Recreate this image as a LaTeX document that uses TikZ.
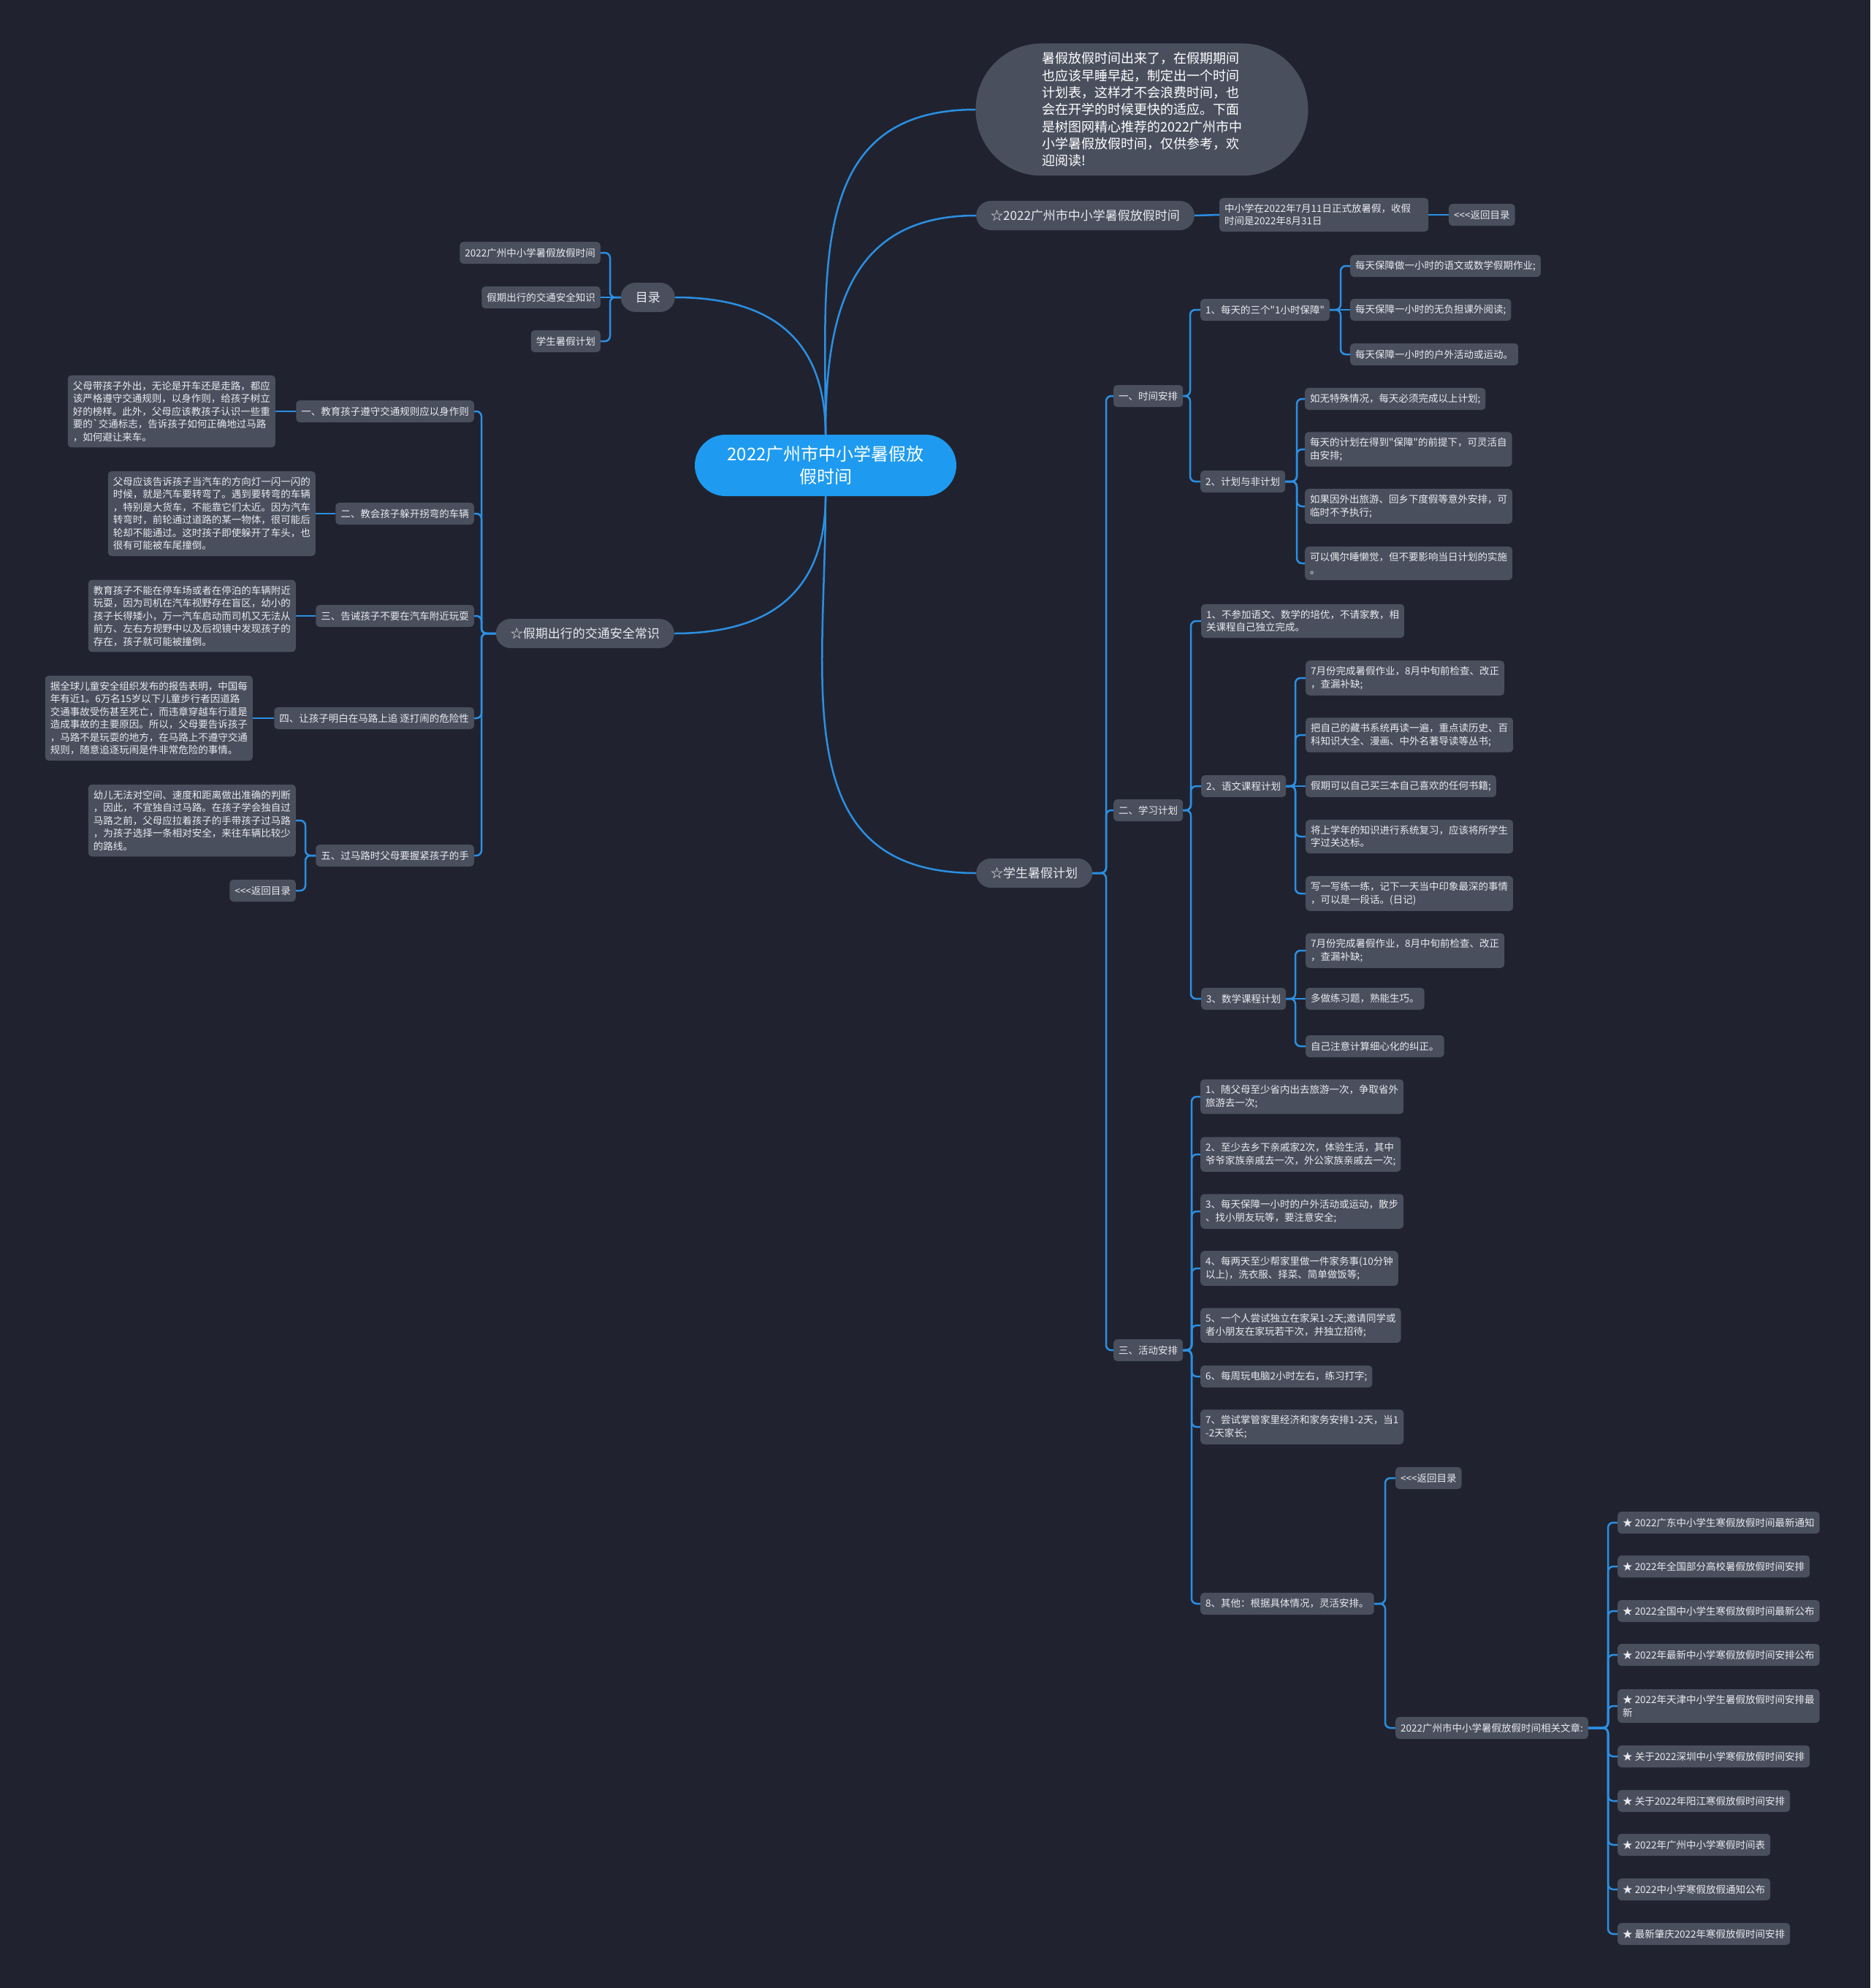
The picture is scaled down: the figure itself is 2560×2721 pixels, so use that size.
\documentclass[tikz,border=0pt]{standalone}
\usepackage{fontspec}
\setmainfont{Noto Sans CJK SC}[Ligatures=TeXOff]
\definecolor{bgdark}{HTML}{20232F}
\definecolor{boxgray}{HTML}{4A4F5E}
\definecolor{boxtext}{HTML}{E8EAEE}
\definecolor{linkblue}{HTML}{2B8FE3}
\definecolor{rootblue}{HTML}{1E9BF0}
\newcommand\leaffont{\fontsize{13.5}{17.5}\selectfont}
\newcommand\branchfont{\fontsize{17}{20}\selectfont}
\newcommand\introfont{\fontsize{18}{23.3}\selectfont}
\newcommand\rootfont{\fontsize{24}{31}\selectfont}

\begin{document}
\begin{tikzpicture}[x=1pt, y=-1pt,
  root/.style={fill=rootblue, rounded corners=42pt, minimum width=358pt, minimum height=84pt, align=center, text=white, font=\rootfont},
  intro/.style={fill=boxgray, rounded corners=90pt, minimum width=455pt, minimum height=181pt, align=left, text=white, font=\introfont},
  branch/.style={fill=boxgray, rounded corners=20pt, minimum height=40pt, inner xsep=20pt, inner ysep=0pt, text=boxtext, font=\branchfont},
  leaf/.style={fill=boxgray, rounded corners=5pt, minimum height=30pt, inner xsep=7pt, inner ysep=8pt, align=left, text=boxtext, font=\leaffont},
  link/.style={draw=linkblue, line width=2.5pt, rounded corners=7pt},
  curve/.style={draw=linkblue, line width=2.5pt}]

\useasboundingbox (0,0) rectangle (2560,2721);
\fill[bgdark] (0,0) rectangle (2560,2721);

% Centre and intro
\node[root] (root) at (1130,637) {2022广州市中小学暑假放\\假时间};
\node[intro] (intro) at (1563,150) {暑假放假时间出来了，在假期期间\\也应该早睡早起，制定出一个时间\\计划表，这样才不会浪费时间，也\\会在开学的时候更快的适应。下面\\是树图网精心推荐的2022广州市中\\小学暑假放假时间，仅供参考，欢\\迎阅读!};

% Holiday dates
\node[branch, anchor=west] (holiday) at (1336,295) {☆2022广州市中小学暑假放假时间};
\node[leaf, anchor=west, text width=272pt] (opendate) at (1669,294) {中小学在2022年7月11日正式放暑假，收假\\时间是2022年8月31日};
\node[leaf, anchor=west] (back1) at (1983,294) {<<<返回目录};

% Contents
\node[branch, anchor=east] (mulu) at (924,407) {目录};
\node[leaf, anchor=east] (m1) at (822,346) {2022广州中小学暑假放假时间};
\node[leaf, anchor=east] (m2) at (822,407) {假期出行的交通安全知识};
\node[leaf, anchor=east] (m3) at (822,467) {学生暑假计划};

% Traffic safety
\node[branch, anchor=east] (traffic) at (923,867) {☆假期出行的交通安全常识};
\node[leaf, anchor=east] (t1) at (649,563) {一、教育孩子遵守交通规则应以身作则};
\node[leaf, anchor=east] (t2) at (649,703) {二、教会孩子躲开拐弯的车辆};
\node[leaf, anchor=east] (t3) at (649,843) {三、告诫孩子不要在汽车附近玩耍};
\node[leaf, anchor=east] (t4) at (649,983) {四、让孩子明白在马路上追 逐打闹的危险性};
\node[leaf, anchor=east] (t5) at (649,1171) {五、过马路时父母要握紧孩子的手};
\node[leaf, anchor=east] (t1txt) at (377,563) {父母带孩子外出，无论是开车还是走路，都应\\该严格遵守交通规则，以身作则，给孩子树立\\好的榜样。此外，父母应该教孩子认识一些重\\要的`交通标志，告诉孩子如何正确地过马路\\，如何避让来车。};
\node[leaf, anchor=east] (t2txt) at (432,703) {父母应该告诉孩子当汽车的方向灯一闪一闪的\\时候，就是汽车要转弯了。遇到要转弯的车辆\\，特别是大货车，不能靠它们太近。因为汽车\\转弯时，前轮通过道路的某一物体，很可能后\\轮却不能通过。这时孩子即使躲开了车头，也\\很有可能被车尾撞倒。};
\node[leaf, anchor=east] (t3txt) at (405,843) {教育孩子不能在停车场或者在停泊的车辆附近\\玩耍，因为司机在汽车视野存在盲区，幼小的\\孩子长得矮小，万一汽车启动而司机又无法从\\前方、左右方视野中以及后视镜中发现孩子的\\存在，孩子就可能被撞倒。};
\node[leaf, anchor=east] (t4txt) at (346,983) {据全球儿童安全组织发布的报告表明，中国每\\年有近1。6万名15岁以下儿童步行者因道路\\交通事故受伤甚至死亡，而违章穿越车行道是\\造成事故的主要原因。所以，父母要告诉孩子\\，马路不是玩耍的地方，在马路上不遵守交通\\规则，随意追逐玩闹是件非常危险的事情。};
\node[leaf, anchor=east] (t5txt) at (405,1123) {幼儿无法对空间、速度和距离做出准确的判断\\，因此，不宜独自过马路。在孩子学会独自过\\马路之前，父母应拉着孩子的手带孩子过马路\\，为孩子选择一条相对安全，来往车辆比较少\\的路线。};
\node[leaf, anchor=east] (back2) at (405,1219) {<<<返回目录};

% Student plan
\node[branch, anchor=west] (plan) at (1336,1195) {☆学生暑假计划};
\node[leaf, anchor=west] (timeplan) at (1524,542) {一、时间安排};
\node[leaf, anchor=west] (study) at (1524,1109) {二、学习计划};
\node[leaf, anchor=west] (activity) at (1524,1848) {三、活动安排};

\node[leaf, anchor=west] (daily) at (1643,424) {1、每天的三个"1小时保障"};
\node[leaf, anchor=west] (flexible) at (1643,659) {2、计划与非计划};
\node[leaf, anchor=west] (daily1) at (1848,364) {每天保障做一小时的语文或数学假期作业;};
\node[leaf, anchor=west] (daily2) at (1848,424) {每天保障一小时的无负担课外阅读;};
\node[leaf, anchor=west] (daily3) at (1848,485) {每天保障一小时的户外活动或运动。};
\node[leaf, anchor=west] (flex1) at (1786,546) {如无特殊情况，每天必须完成以上计划;};
\node[leaf, anchor=west] (flex2) at (1786,615) {每天的计划在得到"保障"的前提下，可灵活自\\由安排;};
\node[leaf, anchor=west] (flex3) at (1786,693) {如果因外出旅游、回乡下度假等意外安排，可\\临时不予执行;};
\node[leaf, anchor=west] (flex4) at (1786,771) {可以偶尔睡懒觉，但不要影响当日计划的实施\\。};

\node[leaf, anchor=west] (study1) at (1644,850) {1、不参加语文、数学的培优，不请家教，相\\关课程自己独立完成。};
\node[leaf, anchor=west] (chinese) at (1644,1076) {2、语文课程计划};
\node[leaf, anchor=west] (maths) at (1644,1367) {3、数学课程计划};
\node[leaf, anchor=west] (chin1) at (1787,928) {7月份完成暑假作业，8月中旬前检查、改正\\，查漏补缺;};
\node[leaf, anchor=west] (chin2) at (1787,1006) {把自己的藏书系统再读一遍，重点读历史、百\\科知识大全、漫画、中外名著导读等丛书;};
\node[leaf, anchor=west] (chin3) at (1787,1076) {假期可以自己买三本自己喜欢的任何书籍;};
\node[leaf, anchor=west] (chin4) at (1787,1145) {将上学年的知识进行系统复习，应该将所学生\\字过关达标。};
\node[leaf, anchor=west] (chin5) at (1787,1223) {写一写练一练，记下一天当中印象最深的事情\\，可以是一段话。(日记)};
\node[leaf, anchor=west] (math1) at (1787,1301) {7月份完成暑假作业，8月中旬前检查、改正\\，查漏补缺;};
\node[leaf, anchor=west] (math2) at (1787,1367) {多做练习题，熟能生巧。};
\node[leaf, anchor=west] (math3) at (1787,1432) {自己注意计算细心化的纠正。};

\node[leaf, anchor=west] (act1) at (1643,1501) {1、随父母至少省内出去旅游一次，争取省外\\旅游去一次;};
\node[leaf, anchor=west] (act2) at (1643,1580) {2、至少去乡下亲戚家2次，体验生活，其中\\爷爷家族亲戚去一次，外公家族亲戚去一次;};
\node[leaf, anchor=west] (act3) at (1643,1658) {3、每天保障一小时的户外活动或运动，散步\\、找小朋友玩等，要注意安全;};
\node[leaf, anchor=west] (act4) at (1643,1736) {4、每两天至少帮家里做一件家务事(10分钟\\以上)，洗衣服、择菜、简单做饭等;};
\node[leaf, anchor=west] (act5) at (1643,1814) {5、一个人尝试独立在家呆1-2天;邀请同学或\\者小朋友在家玩若干次，并独立招待;};
\node[leaf, anchor=west] (act6) at (1643,1884) {6、每周玩电脑2小时左右，练习打字;};
\node[leaf, anchor=west] (act7) at (1643,1953) {7、尝试掌管家里经济和家务安排1-2天，当1\\-2天家长;};
\node[leaf, anchor=west] (act8) at (1643,2195) {8、其他：根据具体情况，灵活安排。};
\node[leaf, anchor=west] (back3) at (1910,2023) {<<<返回目录};
\node[leaf, anchor=west] (related) at (1910,2365) {2022广州市中小学暑假放假时间相关文章:};

\node[leaf, anchor=west] (art1) at (2214,2084) {★ 2022广东中小学生寒假放假时间最新通知};
\node[leaf, anchor=west] (art2) at (2214,2144) {★ 2022年全国部分高校暑假放假时间安排};
\node[leaf, anchor=west] (art3) at (2214,2205) {★ 2022全国中小学生寒假放假时间最新公布};
\node[leaf, anchor=west] (art4) at (2214,2265) {★ 2022年最新中小学寒假放假时间安排公布};
\node[leaf, anchor=west] (art5) at (2214,2335) {★ 2022年天津中小学生暑假放假时间安排最\\新};
\node[leaf, anchor=west] (art6) at (2214,2404) {★ 关于2022深圳中小学寒假放假时间安排};
\node[leaf, anchor=west] (art7) at (2214,2465) {★ 关于2022年阳江寒假放假时间安排};
\node[leaf, anchor=west] (art8) at (2214,2525) {★ 2022年广州中小学寒假时间表};
\node[leaf, anchor=west] (art9) at (2214,2586) {★ 2022中小学寒假放假通知公布};
\node[leaf, anchor=west] (art10) at (2214,2647) {★ 最新肇庆2022年寒假放假时间安排};

% Curves from the centre
\draw[curve] (root.north) to[out=90, in=180, looseness=1.2] (intro.west);
\draw[curve] (root.north) to[out=90, in=180, looseness=1.2] (holiday.west);
\draw[curve] (root.north) to[out=90, in=0, looseness=1.2] (mulu.east);
\draw[curve] (root.south) to[out=-90, in=0, looseness=1.2] (traffic.east);
\draw[curve] (root.south) to[out=-90, in=180, looseness=1.2] (plan.west);

% Brackets
\draw[link] (holiday.east) -- (opendate.west);
\draw[link] (opendate.east) -- (back1.west);

\draw[link] (mulu.west) -| ([xshift=13pt]m1.east) -- (m1.east);
\draw[link] (mulu.west) -- (m2.east);
\draw[link] (mulu.west) -| ([xshift=13pt]m3.east) -- (m3.east);

\draw[link] (traffic.west) -| ([xshift=10pt]t1.east) -- (t1.east);
\draw[link] (traffic.west) -| ([xshift=10pt]t2.east) -- (t2.east);
\draw[link] (traffic.west) -| ([xshift=10pt]t3.east) -- (t3.east);
\draw[link] (traffic.west) -| ([xshift=10pt]t4.east) -- (t4.east);
\draw[link] (traffic.west) -| ([xshift=10pt]t5.east) -- (t5.east);
\draw[link] (t1.west) -- (t1txt.east);
\draw[link] (t2.west) -- (t2txt.east);
\draw[link] (t3.west) -- (t3txt.east);
\draw[link] (t4.west) -- (t4txt.east);
\draw[link] (t5.west) -| ([xshift=13pt]t5txt.east) -- (t5txt.east);
\draw[link] (t5.west) -| ([xshift=13pt]back2.east) -- (back2.east);

\draw[link] (plan.east) -| ([xshift=-10pt]timeplan.west) -- (timeplan.west);
\draw[link] (plan.east) -| ([xshift=-10pt]study.west) -- (study.west);
\draw[link] (plan.east) -| ([xshift=-10pt]activity.west) -- (activity.west);

\draw[link] (timeplan.east) -| ([xshift=-14pt]daily.west) -- (daily.west);
\draw[link] (timeplan.east) -| ([xshift=-14pt]flexible.west) -- (flexible.west);
\draw[link] (daily.east) -| ([xshift=-13pt]daily1.west) -- (daily1.west);
\draw[link] (daily.east) -- (daily2.west);
\draw[link] (daily.east) -| ([xshift=-13pt]daily3.west) -- (daily3.west);
\draw[link] (flexible.east) -| ([xshift=-11pt]flex1.west) -- (flex1.west);
\draw[link] (flexible.east) -| ([xshift=-11pt]flex2.west) -- (flex2.west);
\draw[link] (flexible.east) -| ([xshift=-11pt]flex3.west) -- (flex3.west);
\draw[link] (flexible.east) -| ([xshift=-11pt]flex4.west) -- (flex4.west);

\draw[link] (study.east) -| ([xshift=-14pt]study1.west) -- (study1.west);
\draw[link] (study.east) -| ([xshift=-14pt]chinese.west) -- (chinese.west);
\draw[link] (study.east) -| ([xshift=-14pt]maths.west) -- (maths.west);
\draw[link] (chinese.east) -| ([xshift=-14pt]chin1.west) -- (chin1.west);
\draw[link] (chinese.east) -| ([xshift=-14pt]chin2.west) -- (chin2.west);
\draw[link] (chinese.east) -- (chin3.west);
\draw[link] (chinese.east) -| ([xshift=-14pt]chin4.west) -- (chin4.west);
\draw[link] (chinese.east) -| ([xshift=-14pt]chin5.west) -- (chin5.west);
\draw[link] (maths.east) -| ([xshift=-14pt]math1.west) -- (math1.west);
\draw[link] (maths.east) -- (math2.west);
\draw[link] (maths.east) -| ([xshift=-14pt]math3.west) -- (math3.west);

\draw[link] (activity.east) -| ([xshift=-12pt]act1.west) -- (act1.west);
\draw[link] (activity.east) -| ([xshift=-12pt]act2.west) -- (act2.west);
\draw[link] (activity.east) -| ([xshift=-12pt]act3.west) -- (act3.west);
\draw[link] (activity.east) -| ([xshift=-12pt]act4.west) -- (act4.west);
\draw[link] (activity.east) -| ([xshift=-12pt]act5.west) -- (act5.west);
\draw[link] (activity.east) -| ([xshift=-12pt]act6.west) -- (act6.west);
\draw[link] (activity.east) -| ([xshift=-12pt]act7.west) -- (act7.west);
\draw[link] (activity.east) -| ([xshift=-12pt]act8.west) -- (act8.west);
\draw[link] (act8.east) -| ([xshift=-14pt]back3.west) -- (back3.west);
\draw[link] (act8.east) -| ([xshift=-14pt]related.west) -- (related.west);

\draw[link] (related.east) -| ([xshift=-13pt]art1.west) -- (art1.west);
\draw[link] (related.east) -| ([xshift=-13pt]art2.west) -- (art2.west);
\draw[link] (related.east) -| ([xshift=-13pt]art3.west) -- (art3.west);
\draw[link] (related.east) -| ([xshift=-13pt]art4.west) -- (art4.west);
\draw[link] (related.east) -| ([xshift=-13pt]art5.west) -- (art5.west);
\draw[link] (related.east) -| ([xshift=-13pt]art6.west) -- (art6.west);
\draw[link] (related.east) -| ([xshift=-13pt]art7.west) -- (art7.west);
\draw[link] (related.east) -| ([xshift=-13pt]art8.west) -- (art8.west);
\draw[link] (related.east) -| ([xshift=-13pt]art9.west) -- (art9.west);
\draw[link] (related.east) -| ([xshift=-13pt]art10.west) -- (art10.west);

\end{tikzpicture}
\end{document}
